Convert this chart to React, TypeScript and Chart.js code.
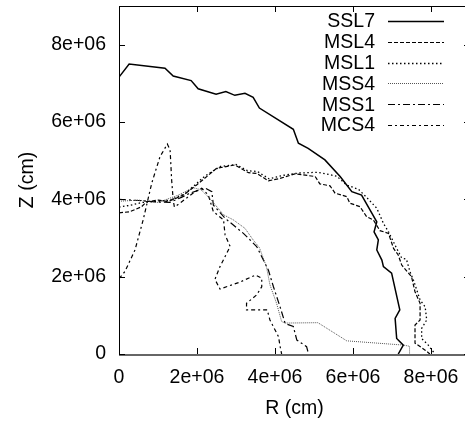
import React, { useEffect, useRef } from "react";
import { Chart, registerables } from "chart.js";

Chart.register(...registerables);

// ---- data (R, Z in cm) ----
const seriesLabels = ["SSL7", "MSL4", "MSL1", "MSS4", "MSS1", "MCS4"];

const ssl7R = [0, 0.26e6, 1.18e6, 1.39e6, 1.85e6, 2.03e6, 2.49e6, 2.74e6, 2.97e6, 3.23e6, 3.44e6, 3.6e6, 4.47e6, 4.6e6, 4.85e6, 5.28e6, 5.67e6, 5.97e6, 6.22e6, 6.61e6, 6.54e6, 6.65e6, 6.61e6, 6.74e6, 6.78e6, 6.99e6, 7.2e6, 7.08e6, 7.12e6, 7.29e6, 7.16e6];
const ssl7Z = [7.16e6, 7.5e6, 7.39e6, 7.19e6, 7.07e6, 6.86e6, 6.72e6, 6.79e6, 6.69e6, 6.74e6, 6.64e6, 6.36e6, 5.81e6, 5.45e6, 5.32e6, 5.02e6, 4.59e6, 4.2e6, 4.11e6, 3.42e6, 3.16e6, 2.95e6, 2.69e6, 2.43e6, 2.26e6, 2.09e6, 1.14e6, 0.92e6, 0.4e6, 0.23e6, 0];

const msl4R = [0, 0.28e6, 0.58e6, 0.71e6, 1.01e6, 1.26e6, 1.65e6, 1.99e6, 2.5e6, 2.97e6, 3.32e6, 3.53e6, 3.83e6, 4.13e6, 4.51e6, 5.03e6, 5.15e6, 5.41e6, 5.54e6, 5.84e6, 5.92e6, 6.18e6, 6.35e6, 6.52e6, 6.69e6, 6.91e6, 7.04e6, 7.16e6, 7.25e6, 7.5e6, 7.59e6, 7.72e6, 7.72e6, 7.59e6, 7.59e6, 7.85e6, 7.97e6];
const msl4Z = [3.65e6, 3.68e6, 3.81e6, 3.94e6, 3.98e6, 3.94e6, 4.11e6, 4.37e6, 4.8e6, 4.89e6, 4.69e6, 4.67e6, 4.48e6, 4.54e6, 4.66e6, 4.59e6, 4.4e6, 4.35e6, 4.16e6, 4.07e6, 3.9e6, 3.81e6, 3.55e6, 3.47e6, 3.19e6, 3.12e6, 2.73e6, 2.56e6, 2.3e6, 2.0e6, 1.61e6, 1.31e6, 0.88e6, 0.75e6, 0.28e6, 0.1e6, 0];

const msl1R = [0, 0.3e6, 0.6e6, 1.0e6, 1.3e6, 1.7e6, 2.2e6, 2.6e6, 3.0e6, 3.3e6, 3.55e6, 3.85e6, 4.2e6, 4.6e6, 5.1e6, 5.58e6, 5.84e6, 6.14e6, 6.35e6, 6.61e6, 6.78e6, 6.91e6, 7.12e6, 7.25e6, 7.37e6, 7.46e6, 7.55e6, 7.72e6, 7.85e6, 7.89e6, 7.76e6, 7.76e6, 7.93e6, 8.1e6];
const msl1Z = [3.8e6, 3.85e6, 3.92e6, 3.95e6, 3.98e6, 4.15e6, 4.6e6, 4.85e6, 4.9e6, 4.74e6, 4.72e6, 4.53e6, 4.62e6, 4.68e6, 4.7e6, 4.6e6, 4.37e6, 4.26e6, 4.05e6, 3.77e6, 3.38e6, 3.16e6, 2.73e6, 2.48e6, 2.45e6, 2.13e6, 1.91e6, 1.4e6, 1.22e6, 0.88e6, 0.66e6, 0.4e6, 0.23e6, 0];

const mss4R = [0, 0.5e6, 1.0e6, 1.5e6, 1.9e6, 2.1e6, 2.35e6, 2.68e6, 2.93e6, 3.23e6, 3.44e6, 3.6e6, 3.78e6, 3.87e6, 4.04e6, 4.17e6, 4.26e6, 5.1e6, 5.84e6, 7.3e6, 7.45e6, 7.45e6];
const mss4Z = [3.95e6, 3.98e6, 3.92e6, 4.1e6, 4.3e6, 4.25e6, 4.0e6, 3.6e6, 3.47e6, 3.25e6, 2.95e6, 2.75e6, 2.26e6, 1.79e6, 1.31e6, 0.84e6, 0.8e6, 0.81e6, 0.34e6, 0.23e6, 0.2e6, 0];

const mss1R = [0, 0.5e6, 1.0e6, 1.3e6, 1.6e6, 1.82e6, 2.21e6, 2.38e6, 2.42e6, 2.72e6, 3.19e6, 3.53e6, 3.83e6, 3.96e6, 4.13e6, 4.26e6, 4.47e6, 4.56e6, 4.81e6, 4.86e6];
const mss1Z = [4.0e6, 3.97e6, 3.93e6, 3.92e6, 4.05e6, 4.16e6, 4.29e6, 4.2e6, 3.85e6, 3.51e6, 3.12e6, 2.78e6, 2.17e6, 1.74e6, 1.22e6, 0.79e6, 0.71e6, 0.36e6, 0.19e6, 0];

const mcs4R = [0, 0.15e6, 0.41e6, 0.62e6, 0.84e6, 1.05e6, 1.24e6, 1.31e6, 1.35e6, 1.39e6, 1.42e6, 1.56e6, 1.95e6, 2.12e6, 2.29e6, 2.42e6, 2.68e6, 2.72e6, 2.85e6, 2.59e6, 2.46e6, 2.59e6, 3.1e6, 3.5e6, 3.66e6, 3.66e6, 3.53e6, 3.27e6, 3.27e6, 3.8e6, 3.87e6, 4.09e6, 4.13e6, 4.17e6];
const mcs4Z = [1.95e6, 2.13e6, 2.69e6, 3.47e6, 4.42e6, 5.1e6, 5.43e6, 5.28e6, 4.5e6, 3.98e6, 3.8e6, 3.9e6, 4.2e6, 4.29e6, 4.11e6, 3.68e6, 3.47e6, 3.08e6, 2.78e6, 2.26e6, 1.93e6, 1.68e6, 1.86e6, 2.04e6, 1.96e6, 1.74e6, 1.53e6, 1.31e6, 1.14e6, 1.14e6, 0.88e6, 0.45e6, 0.2e6, 0];

const xTitle = "R (cm)";
const yTitle = "Z (cm)";
const axisMin = 0;
const axisMax = 9e6;
const tickValues = [0, 2e6, 4e6, 6e6, 8e6];

const seriesR = [ssl7R, msl4R, msl1R, mss4R, mss1R, mcs4R];
const seriesZ = [ssl7Z, msl4Z, msl1Z, mss4Z, mss1Z, mcs4Z];
const seriesDash: number[][] = [[], [4, 2], [1.5, 2.5], [1, 1], [7, 3, 2, 3], [4, 3, 2, 3]];
const seriesColor = ["#000", "#000", "#000", "#555", "#000", "#000"];
const seriesWidth = [1.5, 1.2, 1.3, 1, 1.2, 1.2];

const FONT = "'Liberation Sans', Arial, Helvetica, sans-serif";
const FSIZE = 19.5;

function fmt(v: number): string {
  if (v === 0) return "0";
  const [m, e] = v.toExponential().split("e");
  const ex = parseInt(e, 10);
  return m + "e" + (ex < 0 ? "-" : "+") + String(Math.abs(ex)).padStart(2, "0");
}

const framePlugin = {
  id: "gnuframe",
  afterDraw(chart: any) {
    const { ctx, chartArea } = chart;
    const { left, right, top, bottom } = chartArea;
    const xs = chart.scales.x;
    const ys = chart.scales.y;
    ctx.save();
    ctx.strokeStyle = "#000";
    ctx.lineWidth = 1;
    ctx.beginPath();
    ctx.moveTo(left + 0.5, bottom);
    ctx.lineTo(left + 0.5, top + 0.5);
    ctx.lineTo(right - 0.5, top + 0.5);
    ctx.lineTo(right - 0.5, bottom);
    ctx.stroke();
    ctx.strokeStyle = "#666";
    ctx.lineWidth = 2;
    ctx.beginPath();
    ctx.moveTo(left, bottom + 1);
    ctx.lineTo(right, bottom + 1);
    ctx.stroke();
    const tl = 6;
    ctx.strokeStyle = "#000";
    ctx.lineWidth = 1;
    ctx.beginPath();
    xs.ticks.forEach((t: any) => {
      const px = Math.round(xs.getPixelForValue(t.value)) + 0.5;
      ctx.moveTo(px, bottom);
      ctx.lineTo(px, bottom - tl);
      ctx.moveTo(px, top);
      ctx.lineTo(px, top + tl);
    });
    ys.ticks.forEach((t: any) => {
      const py = Math.round(ys.getPixelForValue(t.value)) + 0.5;
      ctx.moveTo(left, py);
      ctx.lineTo(left + tl, py);
      ctx.moveTo(right, py);
      ctx.lineTo(right - tl, py);
    });
    ctx.stroke();
    // key
    const textRight = 375;
    const lx0 = 388;
    const lx1 = 444;
    const y0 = 21;
    const dy = 20.8;
    ctx.font = `${FSIZE}px ${FONT}`;
    ctx.textAlign = "right";
    ctx.textBaseline = "middle";
    chart.data.datasets.forEach((ds: any, i: number) => {
      const yy = y0 + i * dy;
      ctx.fillStyle = "#000";
      ctx.fillText(ds.label, textRight, yy + 1);
      ctx.strokeStyle = ds.borderColor;
      ctx.lineWidth = ds.borderWidth;
      ctx.setLineDash(ds.borderDash || []);
      ctx.beginPath();
      ctx.moveTo(lx0, Math.round(yy) + 0.5);
      ctx.lineTo(lx1, Math.round(yy) + 0.5);
      ctx.stroke();
      ctx.setLineDash([]);
    });
    ctx.restore();
  },
};

export default function App() {
  const ref = useRef<HTMLCanvasElement | null>(null);
  useEffect(() => {
    if (!ref.current) return;
    const datasets = seriesLabels.map((label, i) => ({
      label,
      data: seriesR[i].map((r, j) => ({ x: r, y: seriesZ[i][j] })),
      showLine: true,
      borderColor: seriesColor[i],
      backgroundColor: seriesColor[i],
      borderWidth: seriesWidth[i],
      borderDash: seriesDash[i],
      pointRadius: 0,
      tension: 0,
      fill: false,
    }));
    const setTicks = (s: any) => {
      s.ticks = tickValues.map((v) => ({ value: v }));
    };
    const chart = new Chart(ref.current, {
      type: "scatter",
      data: { datasets },
      options: {
        animation: false,
        responsive: false,
        devicePixelRatio: 1,
        layout: { padding: { top: 6, right: 0, left: 0, bottom: 0 } },
        plugins: { legend: { display: false }, tooltip: { enabled: false } },
        scales: {
          x: {
            type: "linear",
            min: axisMin,
            max: axisMax,
            grid: { display: false, drawTicks: false },
            border: { display: false },
            afterBuildTicks: setTicks,
            ticks: {
              padding: 12,
              color: "#000",
              maxRotation: 0,
              minRotation: 0,
              autoSkip: false,
              font: { family: FONT, size: FSIZE },
              callback: (v: any) => fmt(Number(v)),
            },
            title: {
              display: true,
              text: xTitle,
              color: "#000",
              font: { family: FONT, size: FSIZE },
              padding: { top: 0, bottom: 6 },
            },
            afterFit: (s: any) => {
              s.height = 72;
              s.paddingLeft = 0;
              s.paddingRight = 0;
              s.paddingTop = 0;
              s.paddingBottom = 0;
            },
          },
          y: {
            type: "linear",
            min: axisMin,
            max: axisMax,
            grid: { display: false, drawTicks: false },
            border: { display: false },
            afterBuildTicks: setTicks,
            ticks: {
              padding: 13,
              color: "#000",
              autoSkip: false,
              font: { family: FONT, size: FSIZE },
              callback: (v: any) => fmt(Number(v)),
            },
            title: {
              display: true,
              text: yTitle,
              color: "#000",
              font: { family: FONT, size: FSIZE },
              padding: { top: 16, bottom: 0 },
            },
            afterFit: (s: any) => {
              s.width = 119;
              s.paddingLeft = 0;
              s.paddingRight = 0;
              s.paddingTop = 0;
              s.paddingBottom = 0;
            },
          },
        },
      },
      plugins: [framePlugin],
    });
    return () => chart.destroy();
  }, []);
  return (
    <div
      style={{
        position: "fixed",
        left: 0,
        top: 0,
        width: 465,
        height: 426,
        overflow: "hidden",
        background: "#fff",
      }}
    >
      <canvas ref={ref} width={470} height={426} style={{ display: "block" }} />
    </div>
  );
}
